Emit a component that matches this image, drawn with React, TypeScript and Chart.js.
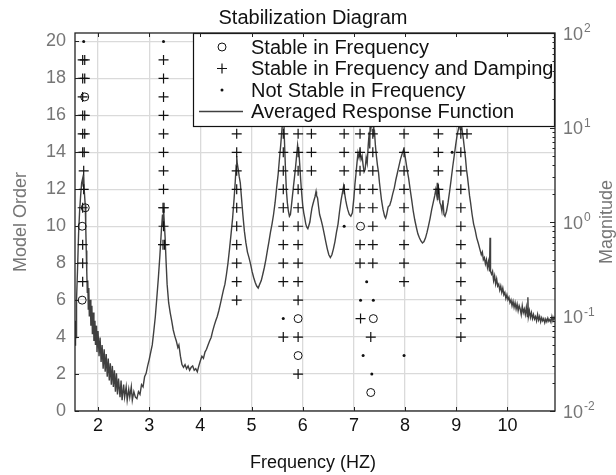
import React, { useEffect, useRef } from "react";
import { Chart, registerables } from "chart.js";

Chart.register(...registerables);

const FONT = "'Liberation Sans', Arial, Helvetica, sans-serif";

const titleText = "Stabilization Diagram";
const xTitle = "Frequency (HZ)";
const yTitle = "Model Order";
const y2Title = "Magnitude";
const legendLabels = [
  "Stable in Frequency",
  "Stable in Frequency and Damping",
  "Not Stable in Frequency",
  "Averaged Response Function",
];

const xTicks = [2, 3, 4, 5, 6, 7, 8, 9, 10];
const yTicks = [0, 2, 4, 6, 8, 10, 12, 14, 16, 18, 20];
const magExponents = [-2, -1, 0, 1, 2];

// [frequency, model order]
const stableFreq: [number, number][] = [
  [1.74, 17], [1.75, 11], [1.69, 10], [1.69, 6],
  [5.91, 5], [5.91, 3],
  [7.13, 10], [7.38, 5], [7.33, 1],
];

const stableFreqDamp: [number, number][] = [
  [1.70, 19], [1.74, 19], [1.70, 18], [1.74, 18], [1.70, 17],
  [1.70, 16], [1.74, 16], [1.70, 15], [1.74, 15], [1.70, 14], [1.73, 14],
  [1.72, 13], [1.72, 12], [1.70, 11], [1.70, 9], [1.70, 8], [1.70, 7],
  [3.28, 19], [3.28, 18], [3.28, 17], [3.28, 16], [3.28, 15], [3.28, 14],
  [3.28, 13], [3.28, 12], [3.27, 11], [3.29, 11], [3.28, 10], [3.27, 9], [3.30, 9],
  [4.71, 15], [4.71, 14], [4.71, 13], [4.71, 12], [4.71, 11], [4.71, 10],
  [4.71, 9], [4.71, 8], [4.71, 7], [4.71, 6],
  [5.62, 15], [5.62, 14], [5.62, 13], [5.62, 12], [5.62, 11], [5.62, 10],
  [5.62, 9], [5.62, 8], [5.62, 7], [5.62, 4],
  [5.91, 15], [5.91, 14], [5.91, 13], [5.91, 12], [5.91, 11], [5.91, 10],
  [5.91, 9], [5.91, 8], [5.91, 7], [5.91, 6], [5.91, 4], [5.91, 2],
  [6.17, 15], [6.17, 14], [6.17, 13],
  [6.81, 15], [6.81, 14], [6.81, 13], [6.81, 12],
  [7.12, 15], [7.12, 14], [7.12, 13], [7.12, 12], [7.12, 11], [7.12, 9], [7.12, 8], [7.13, 5],
  [7.37, 15], [7.37, 14], [7.37, 13], [7.37, 12], [7.37, 11], [7.37, 10], [7.37, 9], [7.37, 8],
  [7.33, 4],
  [7.98, 15], [7.98, 14], [7.98, 13], [7.98, 12], [7.98, 11], [7.98, 10],
  [7.98, 9], [7.98, 8], [7.98, 7],
  [8.65, 15], [8.65, 14], [8.65, 13], [8.65, 12],
  [9.09, 15], [9.21, 15], [9.09, 14], [9.09, 13], [9.09, 12], [9.09, 11], [9.09, 10],
  [9.09, 9], [9.09, 8], [9.09, 7], [9.09, 6], [9.09, 5], [9.09, 4],
];

const notStable: [number, number][] = [
  [1.72, 20], [3.28, 20], [5.62, 5], [6.81, 10], [7.25, 7], [7.13, 6], [7.38, 6],
  [7.18, 3], [7.98, 3], [7.35, 2], [8.92, 14],
];

const respFreq = [
  1.55, 1.56, 1.57, 1.58, 1.60, 1.62, 1.64, 1.66, 1.68, 1.70, 1.71, 1.72, 1.73, 1.75, 1.76, 1.77,
  1.78, 1.79, 1.80, 1.81, 1.82, 1.83, 1.85, 1.86, 1.88, 1.89, 1.91, 1.92, 1.94, 1.95, 1.97, 1.98,
  2.00, 2.02, 2.04, 2.06, 2.08, 2.10, 2.12, 2.14, 2.16, 2.18, 2.20, 2.22, 2.24, 2.26, 2.28, 2.30,
  2.32, 2.34, 2.36, 2.38, 2.40, 2.43, 2.45, 2.47, 2.50, 2.52, 2.55, 2.57, 2.60, 2.62, 2.65, 2.67,
  2.70, 2.73, 2.76, 2.79, 2.82, 2.85, 2.88, 2.91, 2.94, 2.97, 3.00, 3.03, 3.06, 3.09, 3.12, 3.15,
  3.18, 3.21, 3.24, 3.26, 3.27, 3.28, 3.29, 3.31, 3.33, 3.35, 3.38, 3.41, 3.44, 3.47, 3.50, 3.53,
  3.56, 3.58, 3.61, 3.64, 3.67, 3.70, 3.73, 3.76, 3.79, 3.82, 3.85, 3.88, 3.91, 3.94, 3.97, 4.00,
  4.03, 4.06, 4.09, 4.12, 4.15, 4.18, 4.21, 4.24, 4.27, 4.30, 4.33, 4.36, 4.39, 4.42, 4.45, 4.48,
  4.51, 4.54, 4.57, 4.60, 4.63, 4.66, 4.68, 4.70, 4.71, 4.72, 4.74, 4.76, 4.78, 4.80, 4.83, 4.86,
  4.89, 4.92, 4.95, 4.98, 5.01, 5.04, 5.07, 5.10, 5.13, 5.16, 5.19, 5.22, 5.25, 5.28, 5.31, 5.34,
  5.37, 5.40, 5.43, 5.46, 5.49, 5.52, 5.55, 5.57, 5.59, 5.61, 5.62, 5.63, 5.64, 5.66, 5.68, 5.70,
  5.72, 5.74, 5.76, 5.78, 5.80, 5.82, 5.84, 5.86, 5.88, 5.90, 5.91, 5.92, 5.94, 5.96, 5.98, 6.00,
  6.02, 6.04, 6.06, 6.08, 6.10, 6.12, 6.14, 6.16, 6.18, 6.20, 6.22, 6.24, 6.26, 6.27, 6.29, 6.31,
  6.33, 6.36, 6.39, 6.42, 6.45, 6.48, 6.51, 6.54, 6.57, 6.60, 6.63, 6.66, 6.69, 6.72, 6.75, 6.78,
  6.80, 6.82, 6.84, 6.86, 6.88, 6.91, 6.94, 6.97, 7.00, 7.02, 7.04, 7.06, 7.08, 7.10, 7.12, 7.14,
  7.16, 7.18, 7.20, 7.22, 7.24, 7.26, 7.28, 7.30, 7.31, 7.32, 7.33, 7.34, 7.35, 7.36, 7.37, 7.38,
  7.39, 7.40, 7.42, 7.44, 7.46, 7.48, 7.50, 7.52, 7.54, 7.57, 7.60, 7.62, 7.64, 7.67, 7.70, 7.73,
  7.76, 7.79, 7.82, 7.85, 7.88, 7.91, 7.94, 7.97, 7.99, 8.01, 8.04, 8.07, 8.10, 8.13, 8.16, 8.19,
  8.22, 8.25, 8.28, 8.31, 8.34, 8.37, 8.40, 8.43, 8.46, 8.49, 8.52, 8.55, 8.58, 8.60, 8.62, 8.63,
  8.64, 8.66, 8.68, 8.70, 8.72, 8.74, 8.76, 8.78, 8.81, 8.84, 8.87, 8.90, 8.93, 8.96, 8.99, 9.02,
  9.05, 9.07, 9.08, 9.09, 9.10, 9.12, 9.14, 9.16, 9.18, 9.20, 9.22, 9.24, 9.26, 9.28, 9.31, 9.34,
  9.37, 9.40, 9.43, 9.46, 9.49, 9.51, 9.53, 9.55, 9.57, 9.59, 9.61, 9.63, 9.65, 9.66, 9.67, 9.69,
  9.71, 9.73, 9.75, 9.77, 9.79, 9.81, 9.83, 9.85, 9.87, 9.89, 9.91, 9.93, 9.95, 9.97, 9.99, 10.01,
  10.03, 10.05, 10.07, 10.09, 10.11, 10.13, 10.15, 10.17, 10.19, 10.21, 10.23, 10.25, 10.27, 10.29, 10.31, 10.33,
  10.35, 10.37, 10.39, 10.40, 10.41, 10.43, 10.45, 10.47, 10.49, 10.51, 10.53, 10.55, 10.57, 10.59, 10.61, 10.63,
  10.65, 10.67, 10.69, 10.71, 10.73, 10.75, 10.77, 10.79, 10.81, 10.83, 10.85, 10.87, 10.89, 10.91, 10.93,
];

const respMag = [
  0.05, 0.09, 0.06, 0.15, 0.32, 0.75, 1.3, 1.9, 2.6, 2.9, 2.4, 3.1, 2.2, 1.5, 0.9, 0.5,
  0.3, 0.18, 0.24, 0.12, 0.2, 0.1, 0.15, 0.08, 0.13, 0.065, 0.11, 0.055, 0.09, 0.05, 0.08, 0.042,
  0.07, 0.038, 0.06, 0.033, 0.05, 0.028, 0.045, 0.026, 0.04, 0.023, 0.036, 0.021, 0.032, 0.019, 0.03, 0.018,
  0.027, 0.016, 0.025, 0.015, 0.022, 0.014, 0.021, 0.013, 0.019, 0.014, 0.018, 0.013, 0.017, 0.014, 0.018, 0.013,
  0.016, 0.014, 0.0135, 0.016, 0.015, 0.019, 0.018, 0.023, 0.025, 0.03, 0.035, 0.042, 0.05, 0.07, 0.1, 0.16,
  0.26, 0.45, 0.85, 1.2, 0.9, 1.45, 1.1, 0.7, 0.38, 0.22, 0.14, 0.11, 0.09, 0.072, 0.062, 0.055,
  0.047, 0.05, 0.038, 0.031, 0.029, 0.031, 0.028, 0.03, 0.027, 0.029, 0.03, 0.027, 0.028, 0.026, 0.03, 0.034,
  0.038, 0.036, 0.042, 0.045, 0.05, 0.055, 0.06, 0.07, 0.08, 0.09, 0.1, 0.115, 0.135, 0.16, 0.19, 0.22,
  0.28, 0.37, 0.52, 0.75, 1.1, 1.8, 2.6, 4.0, 5.0, 4.2, 3.6, 3.0, 2.6, 1.9, 1.2, 0.8,
  0.6, 0.48, 0.42, 0.36, 0.3, 0.26, 0.23, 0.21, 0.2, 0.22, 0.24, 0.28, 0.33, 0.4, 0.5, 0.62,
  0.78, 0.95, 1.2, 1.6, 2.3, 3.2, 5.0, 6.5, 9.0, 12, 11, 13, 8, 4, 2.2, 1.6,
  1.3, 1.15, 1.2, 1.5, 1.9, 2.4, 3.0, 3.8, 5.0, 6.5, 5.8, 6.2, 4.2, 2.8, 2.0, 1.5,
  1.25, 1.1, 0.95, 0.88, 0.85, 0.92, 1.0, 1.2, 1.4, 1.55, 1.7, 1.85, 2.1, 1.9, 1.8, 1.45,
  1.2, 1.05, 0.9, 0.75, 0.62, 0.52, 0.45, 0.42, 0.45, 0.52, 0.62, 0.78, 0.95, 1.3, 1.7, 2.1,
  2.4, 2.0, 1.7, 1.5, 1.35, 1.2, 1.15, 1.25, 1.8, 2.5, 3.2, 4.2, 5.4, 4.8, 5.6, 4.6,
  5.0, 4.0, 3.4, 3.6, 4.8, 4.2, 6.5, 9, 6, 14, 9, 16, 10, 18, 11, 14,
  8, 9.5, 6.5, 5, 4, 3.4, 2.6, 2.1, 1.7, 1.35, 1.15, 1.1, 1.2, 1.45, 1.5, 1.7,
  2.0, 2.3, 2.8, 3.3, 3.9, 4.6, 5.2, 5.8, 5.4, 4.6, 3.6, 2.9, 2.2, 1.7, 1.3, 1.05,
  0.88, 0.75, 0.68, 0.63, 0.6, 0.62, 0.68, 0.78, 0.92, 1.1, 1.35, 1.6, 1.9, 2.2, 1.9, 2.6,
  1.7, 2.3, 1.6, 1.5, 1.3, 1.7, 1.2, 1.15, 1.3, 1.6, 2.1, 2.8, 3.8, 5.0, 6.6, 8.5,
  10, 12, 9.5, 13, 11, 9, 7.5, 6, 4.8, 3.6, 3.0, 2.4, 1.9, 1.6, 1.2, 0.95,
  0.82, 0.68, 0.6, 0.52, 0.45, 0.48, 0.4, 0.42, 0.36, 0.4, 0.33, 0.38, 0.3, 0.68, 0.3, 0.28,
  0.3, 0.24, 0.27, 0.22, 0.25, 0.21, 0.22, 0.19, 0.21, 0.18, 0.2, 0.17, 0.18, 0.155, 0.17, 0.15,
  0.16, 0.14, 0.15, 0.13, 0.145, 0.125, 0.14, 0.12, 0.135, 0.115, 0.13, 0.12, 0.105, 0.13, 0.11, 0.12,
  0.105, 0.125, 0.1, 0.16, 0.1, 0.115, 0.098, 0.11, 0.095, 0.105, 0.094, 0.1, 0.09, 0.105, 0.092, 0.1,
  0.088, 0.097, 0.09, 0.095, 0.086, 0.094, 0.088, 0.096, 0.089, 0.093, 0.087, 0.1, 0.09, 0.098, 0.093,
];

const INK = "#111111";
const CURVE = "#404040";
const GRAY_TEXT = "#767676";
const GRID = "#dadada";

function drawPlus(ctx: CanvasRenderingContext2D, x: number, y: number, r: number) {
  ctx.beginPath();
  ctx.moveTo(x - r, y);
  ctx.lineTo(x + r, y);
  ctx.moveTo(x, y - r);
  ctx.lineTo(x, y + r);
  ctx.stroke();
}

const decoPlugin = {
  id: "deco",
  afterDatasetsDraw(chart: any) {
    const { ctx, chartArea: a, scales } = chart;
    const xs = scales.x;
    const ys = scales.y;
    const y2 = scales.y2;
    ctx.save();

    // legend box
    const lgLeft = 193;
    const lgBottom = 126;
    ctx.fillStyle = "#ffffff";
    ctx.fillRect(lgLeft, a.top, a.right - lgLeft, lgBottom - a.top);
    ctx.strokeStyle = INK;
    ctx.lineWidth = 1.2;
    ctx.strokeRect(lgLeft + 0.5, a.top + 0.5, a.right - lgLeft - 1, lgBottom - a.top);

    const rowY = [47, 68.5, 90, 111.5];
    const mx = 222;
    ctx.lineWidth = 1;
    ctx.strokeStyle = INK;
    ctx.beginPath();
    ctx.arc(mx, rowY[0], 4, 0, Math.PI * 2);
    ctx.stroke();
    ctx.lineWidth = 1.2;
    drawPlus(ctx, mx, rowY[1], 5);
    ctx.fillStyle = INK;
    ctx.beginPath();
    ctx.arc(mx, rowY[2], 1.5, 0, Math.PI * 2);
    ctx.fill();
    ctx.strokeStyle = CURVE;
    ctx.lineWidth = 1.3;
    ctx.beginPath();
    ctx.moveTo(199, rowY[3]);
    ctx.lineTo(243, rowY[3]);
    ctx.stroke();

    ctx.fillStyle = INK;
    ctx.font = `20px ${FONT}`;
    ctx.textAlign = "left";
    ctx.textBaseline = "middle";
    legendLabels.forEach((t, i) => ctx.fillText(t, 251, rowY[i] + 1));

    // frame
    ctx.strokeStyle = "#222222";
    ctx.lineWidth = 1.3;
    ctx.strokeRect(a.left, a.top, a.right - a.left, a.bottom - a.top);

    // inward ticks
    ctx.lineWidth = 1;
    ctx.beginPath();
    xTicks.forEach((v) => {
      const px = Math.round(xs.getPixelForValue(v)) + 0.5;
      ctx.moveTo(px, a.bottom);
      ctx.lineTo(px, a.bottom - 4);
      ctx.moveTo(px, a.top);
      ctx.lineTo(px, a.top + 4);
    });
    yTicks.forEach((v) => {
      const py = Math.round(ys.getPixelForValue(v)) + 0.5;
      ctx.moveTo(a.left, py);
      ctx.lineTo(a.left + 4, py);
    });
    for (let e = -2; e < 2; e++) {
      for (let m = 1; m <= 9; m++) {
        const py = Math.round(y2.getPixelForValue(m * Math.pow(10, e))) + 0.5;
        const len = m === 1 ? 5 : 2.5;
        ctx.moveTo(a.right, py);
        ctx.lineTo(a.right - len, py);
      }
    }
    ctx.stroke();

    // right axis labels 10^n
    ctx.fillStyle = GRAY_TEXT;
    ctx.textAlign = "left";
    ctx.textBaseline = "middle";
    magExponents.forEach((e) => {
      const py = y2.getPixelForValue(Math.pow(10, e));
      ctx.font = `18px ${FONT}`;
      ctx.fillText("10", 563, py + 2);
      const w = ctx.measureText("10").width;
      ctx.font = `12px ${FONT}`;
      ctx.fillText(String(e), 563 + w + 1, py - 4);
    });

    // titles
    ctx.fillStyle = INK;
    ctx.font = `20px ${FONT}`;
    ctx.textAlign = "center";
    ctx.fillText(titleText, (a.left + a.right) / 2 - 2, 18);
    ctx.font = `18px ${FONT}`;
    ctx.fillText(xTitle, (a.left + a.right) / 2 - 2, 463);

    ctx.fillStyle = GRAY_TEXT;
    ctx.save();
    ctx.translate(21, (a.top + a.bottom) / 2);
    ctx.rotate(-Math.PI / 2);
    ctx.fillText(yTitle, 0, 0);
    ctx.restore();
    ctx.save();
    ctx.translate(607, (a.top + a.bottom) / 2);
    ctx.rotate(-Math.PI / 2);
    ctx.fillText(y2Title, 0, 0);
    ctx.restore();

    ctx.restore();
  },
};

export default function App() {
  const ref = useRef<HTMLCanvasElement | null>(null);

  useEffect(() => {
    if (!ref.current) return;
    Chart.defaults.font.family = FONT;
    const toPts = (arr: [number, number][]) => arr.map(([x, y]) => ({ x, y }));
    const curve = respFreq.map((f, i) => ({ x: f, y: respMag[i] }));

    const chart = new Chart(ref.current, {
      type: "scatter",
      data: {
        datasets: [
          {
            label: legendLabels[0],
            data: toPts(stableFreq),
            yAxisID: "y",
            pointStyle: "circle",
            pointRadius: 4,
            pointBorderWidth: 1,
            pointBorderColor: INK,
            pointBackgroundColor: "rgba(0,0,0,0)",
            borderColor: INK,
            backgroundColor: "rgba(0,0,0,0)",
          },
          {
            label: legendLabels[1],
            data: toPts(stableFreqDamp),
            yAxisID: "y",
            pointStyle: "cross",
            pointRadius: 5,
            pointBorderWidth: 1.2,
            pointBorderColor: INK,
            borderColor: INK,
          },
          {
            label: legendLabels[2],
            data: toPts(notStable),
            yAxisID: "y",
            pointStyle: "circle",
            pointRadius: 1.5,
            pointBorderWidth: 0,
            pointBackgroundColor: INK,
            backgroundColor: INK,
          },
          {
            type: "line",
            label: legendLabels[3],
            data: curve,
            yAxisID: "y2",
            showLine: true,
            borderColor: CURVE,
            borderWidth: 1.4,
            pointRadius: 0,
            tension: 0,
            fill: false,
          } as any,
        ],
      },
      options: {
        responsive: false,
        animation: false,
        events: [],
        layout: { padding: { top: 33, left: 0, right: 0, bottom: 0 } },
        plugins: {
          legend: { display: false },
          title: { display: false },
          tooltip: { enabled: false },
        },
        scales: {
          x: {
            type: "linear",
            position: "bottom",
            min: 1.55,
            max: 10.93,
            afterBuildTicks: (s: any) => {
              s.ticks = xTicks.map((v) => ({ value: v }));
            },
            afterFit: (s: any) => {
              s.height = 64;
            },
            grid: { color: GRID, lineWidth: 1.3, drawTicks: false },
            border: { display: false },
            ticks: {
              color: INK,
              font: { size: 18, family: FONT },
              padding: 4,
              maxRotation: 0,
              autoSkip: false,
            },
          },
          y: {
            type: "linear",
            position: "left",
            min: 0,
            max: 20.46,
            afterBuildTicks: (s: any) => {
              s.ticks = yTicks.map((v) => ({ value: v }));
            },
            afterFit: (s: any) => {
              s.width = 75;
            },
            grid: { color: GRID, lineWidth: 1.3, drawTicks: false },
            border: { display: false },
            ticks: {
              color: GRAY_TEXT,
              font: { size: 18, family: FONT },
              padding: 9,
              autoSkip: false,
            },
          },
          y2: {
            type: "logarithmic",
            position: "right",
            min: 0.01,
            max: 100,
            afterFit: (s: any) => {
              s.width = 61;
            },
            grid: { display: false, drawTicks: false },
            border: { display: false },
            ticks: { display: false },
          },
        },
      },
      plugins: [decoPlugin],
    });
    return () => chart.destroy();
  }, []);

  return (
    <div style={{ position: "fixed", left: 0, top: 0, width: 616, height: 475, background: "#fff" }}>
      <canvas ref={ref} width={616} height={475} style={{ display: "block" }} />
    </div>
  );
}
